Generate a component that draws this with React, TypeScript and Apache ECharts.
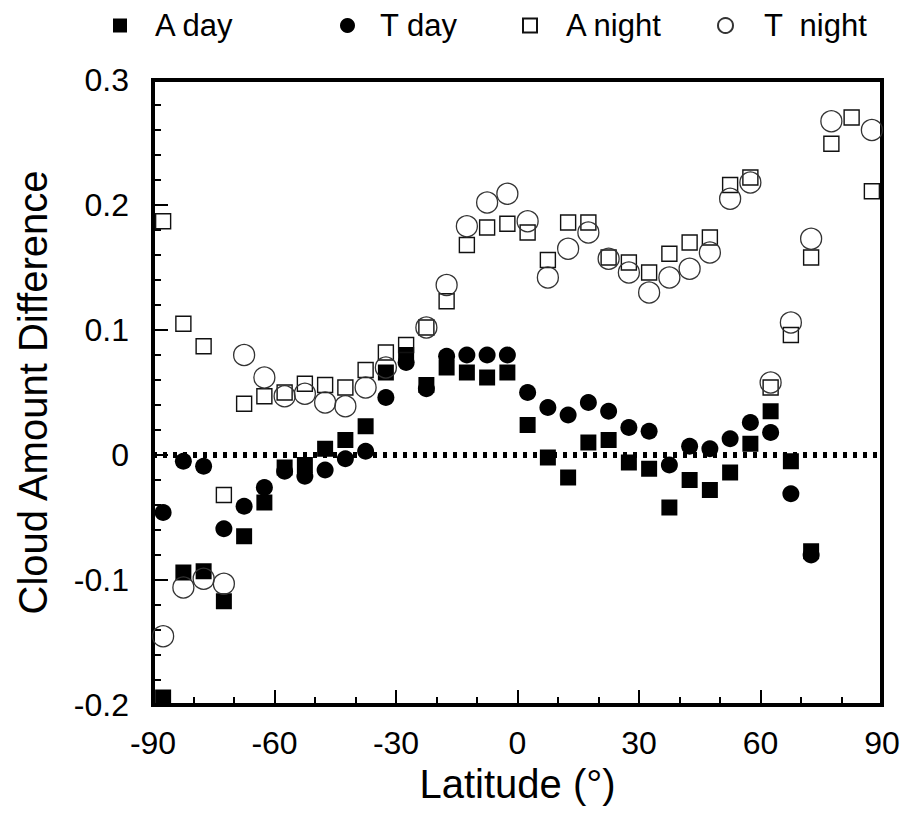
import React, { useEffect, useRef } from "react";
import * as echarts from "echarts";

const latitudes = [
  -87.5, -82.5, -77.5, -72.5, -67.5, -62.5, -57.5, -52.5, -47.5, -42.5, -37.5, -32.5,
  -27.5, -22.5, -17.5, -12.5, -7.5, -2.5, 2.5, 7.5, 12.5, 17.5, 22.5, 27.5,
  32.5, 37.5, 42.5, 47.5, 52.5, 57.5, 62.5, 67.5, 72.5, 77.5, 82.5, 87.5,
];

const aDay: (number | null)[] = [
  -0.194, -0.094, -0.093, -0.117, -0.065, -0.038, -0.01, -0.008, 0.005, 0.012, 0.023, 0.066,
  0.08, 0.056, 0.07, 0.066, 0.062, 0.066, 0.024, -0.002, -0.018, 0.01, 0.012, -0.006,
  -0.011, -0.042, -0.02, -0.028, -0.014, 0.009, 0.035, -0.005, -0.077, null, null, null,
];

const tDay: (number | null)[] = [
  -0.046, -0.005, -0.009, -0.059, -0.041, -0.026, -0.013, -0.017, -0.012, -0.003, 0.003, 0.046,
  0.074, 0.053, 0.079, 0.08, 0.08, 0.08, 0.05, 0.038, 0.032, 0.042, 0.035, 0.022,
  0.019, -0.008, 0.007, 0.005, 0.013, 0.026, 0.018, -0.031, -0.08, null, null, null,
];

const aNight: (number | null)[] = [
  0.187, 0.105, 0.087, -0.032, 0.041, 0.047, 0.05, 0.057, 0.056, 0.054, 0.068, 0.082,
  0.088, 0.102, 0.123, 0.168, 0.182, 0.185, 0.178, 0.156, 0.186, 0.186, 0.158, 0.154,
  0.146, 0.161, 0.17, 0.174, 0.216, 0.222, 0.054, 0.096, 0.158, 0.249, 0.27, 0.211,
];

const tNight: (number | null)[] = [
  -0.145, -0.106, -0.099, -0.103, 0.08, 0.062, 0.047, 0.049, 0.042, 0.039, 0.054, 0.07,
  null, 0.102, 0.136, 0.183, 0.202, 0.209, 0.187, 0.142, 0.165, 0.178, 0.157, 0.146,
  0.13, 0.142, 0.149, 0.162, 0.205, 0.218, 0.058, 0.106, 0.173, 0.267, null, 0.26,
];

const xTicks = { min: -90, max: 90, interval: 30 };
const yTicks = { min: -0.2, max: 0.3, interval: 0.1 };
const zeroLine = 0;

const FONT = "'Liberation Sans', Arial, Helvetica, sans-serif";

function pairs(vals: (number | null)[]) {
  const out: [number, number][] = [];
  vals.forEach((v, i) => {
    if (v !== null) out.push([latitudes[i], v]);
  });
  return out;
}

export default function App() {
  const ref = useRef<HTMLDivElement>(null);

  useEffect(() => {
    if (!ref.current) return;
    const chart = echarts.init(ref.current, null, { renderer: "svg" });

    const legendBase = (name: string, left: number, w: number, padLeft: number) => ({
      data: [name],
      left,
      top: 5,
      orient: "horizontal",
      itemWidth: w,
      itemHeight: w,
      selectedMode: false,
      textStyle: {
        fontFamily: FONT,
        fontSize: 31,
        color: "#000",
        padding: [0, 0, 0, padLeft],
      },
    });

    const openStyle = {
      color: "rgba(255,255,255,0)",
      borderColor: "#111",
      borderWidth: 1.4,
      opacity: 1,
    };

    const tickStyle = { color: "#000", width: 2 };

    chart.setOption({
      animation: false,
      backgroundColor: "#fff",
      legend: [
        legendBase("A day", 108, 14, 23),
        legendBase("T day", 335, 15, 20),
        legendBase("A night", 517, 14, 24),
        legendBase("T  night", 712, 15, 26),
      ],
      grid: {
        left: 153,
        right: 23,
        top: 80,
        bottom: 109,
        show: true,
        borderColor: "#000",
        borderWidth: 4,
        backgroundColor: "transparent",
      },
      xAxis: {
        type: "value",
        min: xTicks.min,
        max: xTicks.max,
        interval: xTicks.interval,
        name: "Latitude (°)",
        nameLocation: "middle",
        nameGap: 58,
        nameTextStyle: { fontFamily: FONT, fontSize: 40, color: "#000" },
        axisLine: { show: true, onZero: false, lineStyle: { color: "#000", width: 4 } },
        axisTick: { show: true, inside: true, length: 15, lineStyle: tickStyle },
        minorTick: { show: true, splitNumber: 3, length: 8, lineStyle: tickStyle },
        splitLine: { show: false },
        axisLabel: { fontFamily: FONT, fontSize: 32, color: "#000", margin: 22 },
      },
      yAxis: {
        type: "value",
        min: yTicks.min,
        max: yTicks.max,
        interval: yTicks.interval,
        name: "Cloud Amount Difference",
        nameLocation: "middle",
        nameGap: 100,
        nameTextStyle: { fontFamily: FONT, fontSize: 40, color: "#000" },
        axisLine: { show: true, onZero: false, lineStyle: { color: "#000", width: 4 } },
        axisTick: { show: true, inside: true, length: 15, lineStyle: tickStyle },
        minorTick: { show: true, splitNumber: 5, length: 8, lineStyle: tickStyle },
        splitLine: { show: false },
        axisLabel: {
          fontFamily: FONT,
          fontSize: 32,
          color: "#000",
          margin: 24,
          formatter: (v: number) => (Math.abs(v) < 1e-9 ? "0" : v.toFixed(1)),
        },
      },
      series: [
        {
          name: "A day",
          type: "scatter",
          symbol: "rect",
          symbolSize: 16,
          itemStyle: { color: "#000", opacity: 1 },
          data: pairs(aDay),
          markLine: {
            silent: true,
            symbol: "none",
            label: { show: false },
            lineStyle: { color: "#000", width: 6, type: [4, 6], opacity: 1 },
            data: [{ yAxis: zeroLine }],
          },
        },
        {
          name: "T day",
          type: "scatter",
          symbol: "circle",
          symbolSize: 17,
          itemStyle: { color: "#000", opacity: 1 },
          data: pairs(tDay),
        },
        {
          name: "A night",
          type: "scatter",
          symbol: "rect",
          symbolSize: 15,
          itemStyle: openStyle,
          data: pairs(aNight),
        },
        {
          name: "T  night",
          type: "scatter",
          symbol: "circle",
          symbolSize: 21,
          itemStyle: { ...openStyle, borderColor: "#333", borderWidth: 1.3 },
          data: pairs(tNight),
        },
      ],
    });

    return () => chart.dispose();
  }, []);

  return (
    <div
      ref={ref}
      style={{ position: "absolute", left: 0, top: 0, width: 905, height: 814 }}
    />
  );
}
